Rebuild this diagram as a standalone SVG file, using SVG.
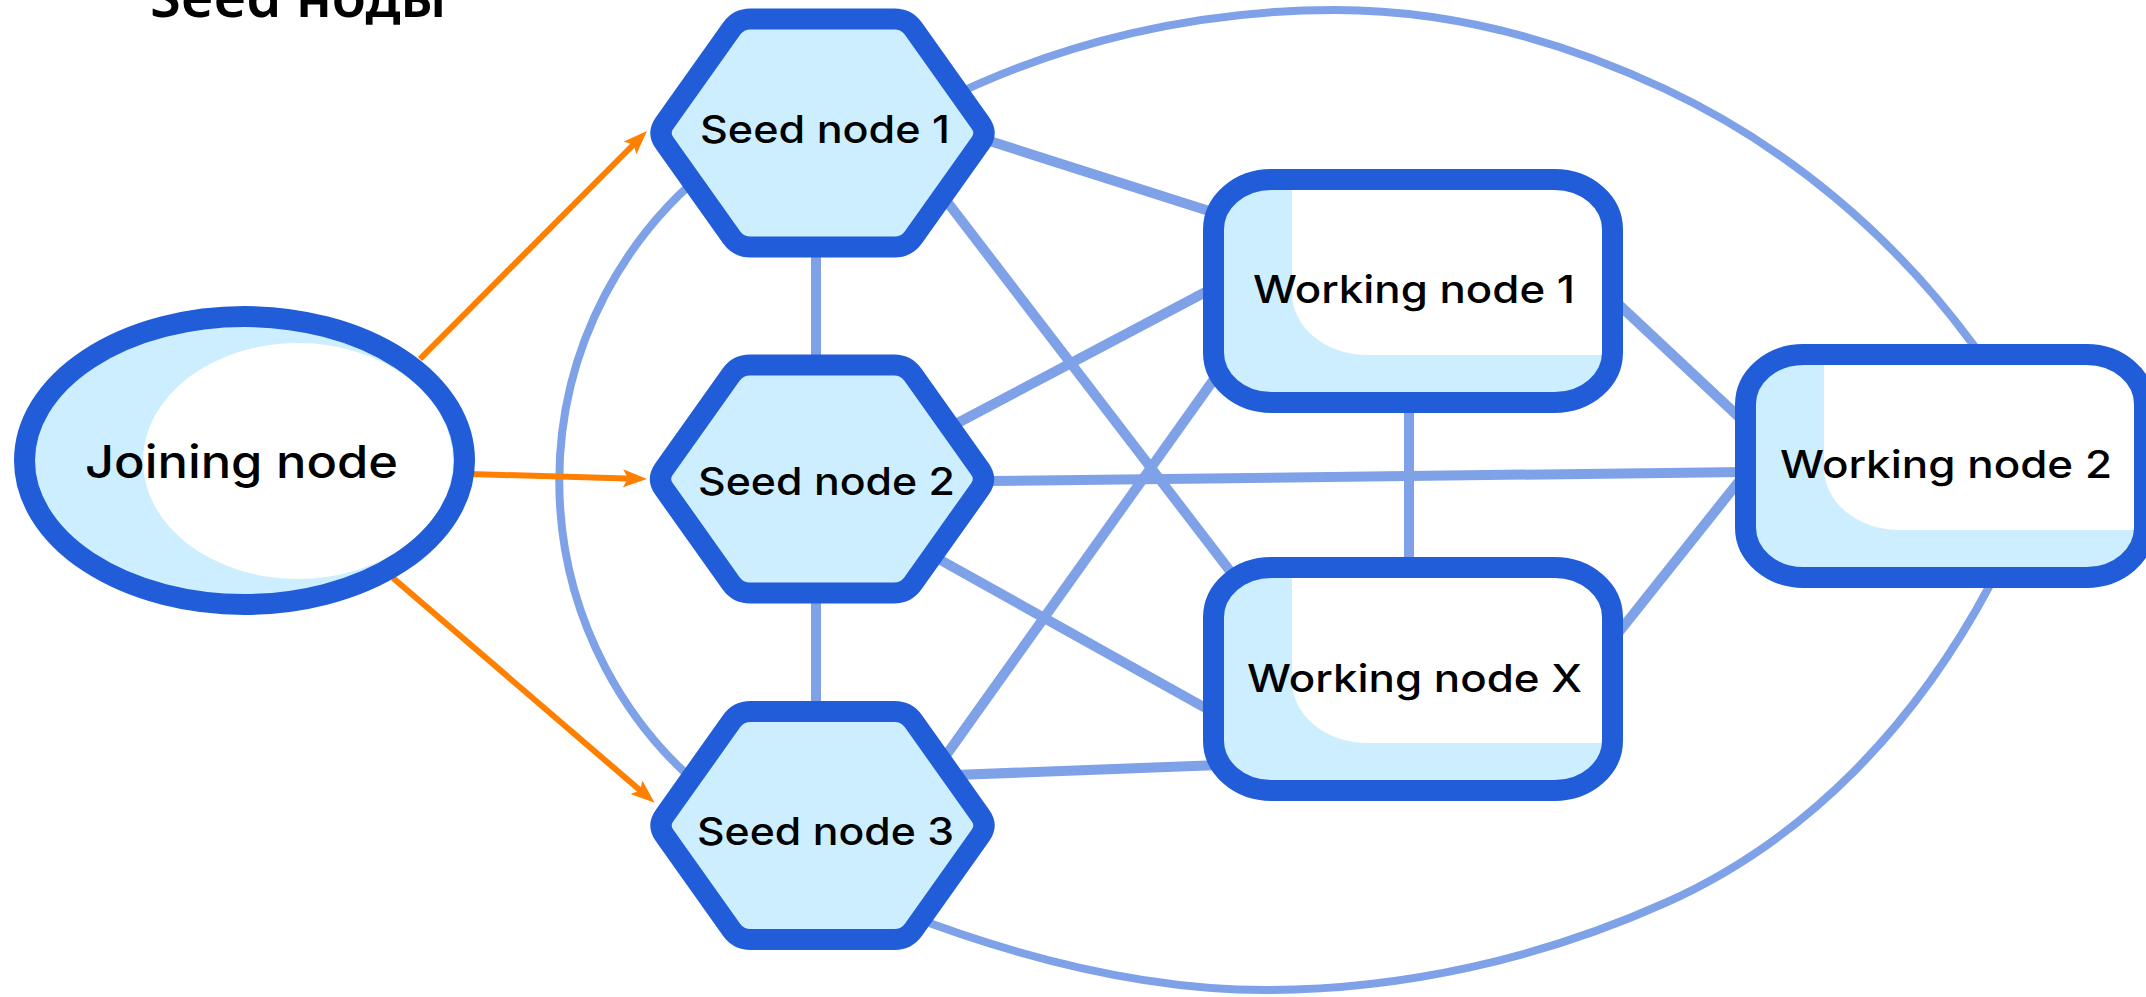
<svg xmlns="http://www.w3.org/2000/svg" width="2146" height="997" viewBox="0 0 2146 997">
  <style>
    .ring { fill: none; stroke: #7EA1E7; stroke-width: 8; stroke-linejoin: round; }
    .link { fill: none; stroke: #7EA1E7; stroke-width: 10; stroke-linecap: butt; }
    .join { fill: none; stroke: #FF8000; stroke-width: 6; marker-end: url(#arrow); }
    .edge { fill: none; stroke: #215DD8; stroke-width: 21; stroke-linejoin: round; }
    .soft { fill: #CCEEFE; }
    .white { fill: #FFFFFF; }
    .label { font-family: Inter, "Noto Sans", "Liberation Sans", sans-serif; font-weight: 500; font-size: 38.5px; fill: #000000; text-anchor: middle; }
    .label-big { font-family: Inter, "Noto Sans", "Liberation Sans", sans-serif; font-weight: 500; font-size: 45px; fill: #000000; text-anchor: middle; }
    .title { font-family: "Noto Sans", "DejaVu Sans", sans-serif; font-weight: 600; font-size: 56px; fill: #000000; }
  </style>
  <defs>
    <marker id="arrow" markerUnits="userSpaceOnUse" markerWidth="26" markerHeight="20" refX="12" refY="9" orient="auto">
      <path d="M0,0 L24,9 L0,18 L5,9 Z" fill="#FF8000"/>
    </marker>
    <path id="hex" d="M-158.05,-9.78 L-90.95,-104.22 Q-84,-114 -72,-114 L72,-114 Q84,-114 90.95,-104.22 L158.05,-9.78 Q165,0 158.05,9.78 L90.95,104.22 Q84,114 72,114 L-72,114 Q-84,114 -90.95,104.22 L-158.05,9.78 Q-165,0 -158.05,-9.78 Z"/>
    <rect id="box" x="0" y="0" width="399" height="223" rx="58" ry="50"/>
    <path id="box-shine" d="M78.5,0 H341 A58,50 0 0 1 399,50 V175.5 H153.5 A75,62 0 0 1 78.5,113.5 Z"/>
  </defs>

  <!-- heading, mostly above the top edge -->
  <g id="title">
    <text class="title" x="150" y="17">Seed ноды</text>
  </g>

  <!-- cluster boundary: wide curve on the right, round arc around the seeds on the left
       (the joins sit under Seed node 1 and Seed node 3) -->
  <g id="cluster-ring">
    <path class="ring" d="M940,102 C1062.2,40.9 1198.3,10 1335,10 C1449,10 1561.8,40.5 1665,89 C1786.9,146.2 1891.9,234.7 1972,343 C2000.5,381.5 2035,420.1 2035,468 C2035,510.9 2010.2,547.2 1990,585 C1916.3,723.1 1808.4,839.1 1665,903 C1539.8,958.8 1403,990 1266,990 C1140.7,990 1016.5,957.1 900,912 L716,799 A401,401 0 0 1 716,163 Z"/>
  </g>

  <g id="connectors">
    <line class="link" x1="816" y1="240" x2="816" y2="380"/>
    <line class="link" x1="816" y1="590" x2="816" y2="720"/>
    <line class="link" x1="985" y1="139.5" x2="1220" y2="214.5"/>
    <line class="link" x1="945" y1="199" x2="1240" y2="584"/>
    <line class="link" x1="950" y1="427" x2="1215" y2="287"/>
    <line class="link" x1="990" y1="481" x2="1745" y2="472"/>
    <line class="link" x1="935" y1="557" x2="1218" y2="715"/>
    <line class="link" x1="942" y1="761" x2="1222" y2="368"/>
    <line class="link" x1="955" y1="775" x2="1220" y2="765"/>
    <line class="link" x1="1409" y1="400" x2="1409" y2="575"/>
    <line class="link" x1="1615" y1="301" x2="1740" y2="418"/>
    <line class="link" x1="1615" y1="637" x2="1740" y2="480"/>
    <line class="join" x1="420" y1="359" x2="638.5" y2="139.5"/>
    <line class="join" x1="470" y1="474" x2="635" y2="478.7"/>
    <line class="join" x1="393" y1="578" x2="645.5" y2="795"/>
  </g>

  <g id="joining-node">
    <ellipse class="soft" cx="244.5" cy="460.5" rx="220" ry="144"/>
    <ellipse class="white" cx="298" cy="461" rx="155" ry="118"/>
    <ellipse class="edge" cx="244.5" cy="460.5" rx="220" ry="144" stroke-width="23"/>
    <text class="label-big" x="241.5" y="478" textLength="313" lengthAdjust="spacingAndGlyphs">Joining node</text>
  </g>

  <g id="seed-node-1">
    <use href="#hex" x="822.5" y="133" class="soft"/>
    <use href="#hex" x="822.5" y="133" class="edge" stroke-width="20"/>
    <text class="label" x="825" y="143" textLength="250" lengthAdjust="spacingAndGlyphs">Seed node 1</text>
  </g>

  <g id="seed-node-2">
    <use href="#hex" x="822" y="479" class="soft"/>
    <use href="#hex" x="822" y="479" class="edge" stroke-width="20"/>
    <text class="label" x="826.5" y="495" textLength="257" lengthAdjust="spacingAndGlyphs">Seed node 2</text>
  </g>

  <g id="seed-node-3">
    <use href="#hex" x="822.5" y="825.5" class="soft"/>
    <use href="#hex" x="822.5" y="825.5" class="edge" stroke-width="20"/>
    <text class="label" x="825.5" y="845" textLength="257" lengthAdjust="spacingAndGlyphs">Seed node 3</text>
  </g>

  <g id="working-node-1">
    <g transform="translate(1213.5,179.5)">
      <use href="#box" class="soft"/>
      <use href="#box-shine" class="white"/>
      <use href="#box" class="edge"/>
    </g>
    <text class="label" x="1414" y="303" textLength="322" lengthAdjust="spacingAndGlyphs">Working node 1</text>
  </g>

  <g id="working-node-x">
    <g transform="translate(1213.5,567.5)">
      <use href="#box" class="soft"/>
      <use href="#box-shine" class="white"/>
      <use href="#box" class="edge"/>
    </g>
    <text class="label" x="1414.5" y="692" textLength="335" lengthAdjust="spacingAndGlyphs">Working node X</text>
  </g>

  <g id="working-node-2">
    <g transform="translate(1745.5,354.5)">
      <use href="#box" class="soft"/>
      <use href="#box-shine" class="white"/>
      <use href="#box" class="edge"/>
    </g>
    <text class="label" x="1946" y="478" textLength="332" lengthAdjust="spacingAndGlyphs">Working node 2</text>
  </g>
</svg>
